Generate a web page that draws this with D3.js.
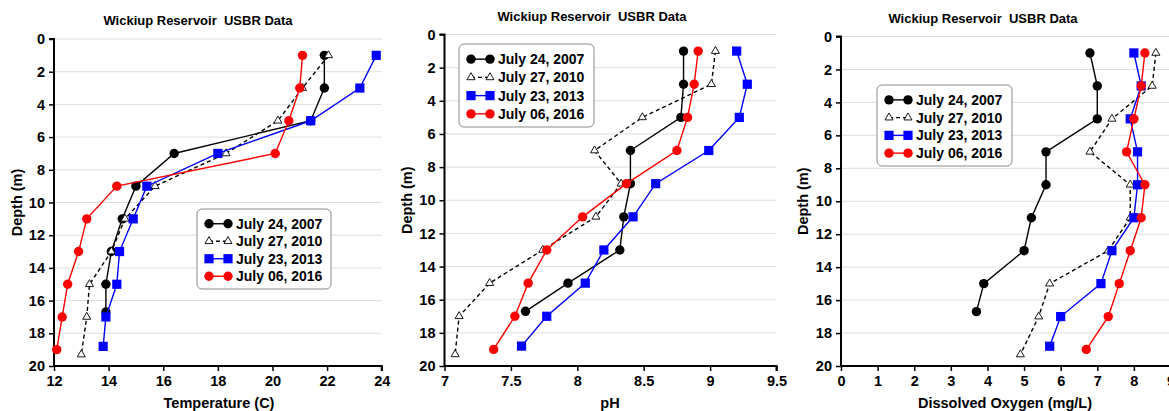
<!DOCTYPE html>
<html>
<head>
<meta charset="utf-8">
<script src="https://cdn.jsdelivr.net/npm/d3@7"></script>
<style>
  body { margin: 0; background: #fff; }
  text { font-family: "Liberation Sans", Arial, sans-serif; font-weight: bold; white-space: pre; }
</style>
</head>
<body>
<svg id="chart" width="1169" height="411"></svg>
<script>
// -- Data -- //

const seriesNames = ["July 24, 2007", "July 27, 2010", "July 23, 2013", "July 06, 2016"];

// depths (m) of each survey
const depth2007 = [1, 3, 5, 7, 9, 11, 13, 15, 16.7];
const depth2010 = [1, 3, 5, 7, 9, 11, 13, 15, 17, 19.3];
const depth2013 = [1, 3, 5, 7, 9, 11, 13, 15, 17, 18.8];
const depth2016 = [1, 3, 5, 7, 9, 11, 13, 15, 17, 19];

// temperature (C)
const temp2007 = [21.9, 21.9, 21.4, 16.4, 15.0, 14.5, 14.1, 13.9, 13.9];
const temp2010 = [22.05, 21.1, 20.2, 18.3, 15.7, 14.6, 14.1, 13.3, 13.2, 13.0];
const temp2013 = [23.8, 23.2, 21.4, 18.0, 15.4, 14.9, 14.4, 14.3, 13.9, 13.8];
const temp2016 = [21.1, 21.0, 20.6, 20.1, 14.3, 13.2, 12.9, 12.5, 12.3, 12.1];

// pH
const ph2007 = [8.80, 8.80, 8.78, 8.40, 8.40, 8.35, 8.32, 7.93, 7.61];
const ph2010 = [9.04, 9.01, 8.49, 8.13, 8.33, 8.14, 7.74, 7.34, 7.11, 7.08];
const ph2013 = [9.20, 9.28, 9.22, 8.99, 8.59, 8.42, 8.20, 8.06, 7.77, 7.58];
const ph2016 = [8.91, 8.88, 8.83, 8.75, 8.37, 8.04, 7.77, 7.63, 7.53, 7.37];

// dissolved oxygen (mg/L)
const do2007 = [6.8, 7.0, 7.0, 5.6, 5.6, 5.2, 5.0, 3.9, 3.7];
const do2010 = [8.6, 8.5, 7.4, 6.8, 7.9, 7.9, 7.3, 5.7, 5.4, 4.9];
const do2013 = [8.0, 8.2, 7.9, 8.1, 8.1, 8.0, 7.4, 7.1, 6.0, 5.7];
const do2016 = [8.3, 8.2, 8.0, 7.8, 8.3, 8.2, 7.9, 7.6, 7.3, 6.7];

const depthTicks = [0, 2, 4, 6, 8, 10, 12, 14, 16, 18, 20];
const tempTicks = [12, 14, 16, 18, 20, 22, 24];
const phTicks = [7, 7.5, 8, 8.5, 9, 9.5];
const doTicks = [0, 1, 2, 3, 4, 5, 6, 7, 8, 9];

const chartTitle = "Wickiup Reservoir  USBR Data";

// -- Panel layout -- //

const styles = [
  {colour: "#000000", shape: "circle", dash: null, fill: "#000000"},
  {colour: "#000000", shape: "triangle", dash: "4,3", fill: "#ffffff"},
  {colour: "#0000ff", shape: "square", dash: null, fill: "#0000ff"},
  {colour: "#ff0000", shape: "circle", dash: null, fill: "#ff0000"},
];
const depths = [depth2007, depth2010, depth2013, depth2016];

const panels = [
  {
    values: [temp2007, temp2010, temp2013, temp2016],
    domain: [12, 24], ticks: tempTicks,
    left: 54, right: 381.7, top: 39, bottom: 366,
    xTitle: "Temperature (C)", xTitleX: 219, titleX: 198, titleY: 25, yTitleX: 22,
    legend: {x: 197, y: 209, w: 134, h: 80},
  },
  {
    values: [ph2007, ph2010, ph2013, ph2016],
    domain: [7, 9.5], ticks: phTicks,
    left: 444.5, right: 776.5, top: 34.5, bottom: 366,
    xTitle: "pH", xTitleX: 610, titleX: 592, titleY: 21, yTitleX: 412,
    legend: {x: 459, y: 44, w: 135, h: 83},
  },
  {
    values: [do2007, do2010, do2013, do2016],
    domain: [0, 9], ticks: doTicks,
    left: 841, right: 1170.5, top: 36.5, bottom: 366,
    xTitle: "Dissolved Oxygen (mg/L)", xTitleX: 1005, titleX: 983, titleY: 23, yTitleX: 808,
    legend: {x: 877, y: 85, w: 135, h: 81},
  },
];

const svg = d3.select("#chart");

panels.forEach(drawPanel);

// -- Function definitions -- //

function drawMarker(g, shape, x, y, st) {
  if (shape === "circle") {
    g.append("circle").attr("cx", x).attr("cy", y).attr("r", 4.7)
      .attr("fill", st.fill);
  } else if (shape === "square") {
    g.append("rect").attr("x", x - 4.6).attr("y", y - 4.6)
      .attr("width", 9.2).attr("height", 9.2).attr("fill", st.fill);
  } else {
    g.append("path")
      .attr("d", d3.symbol().type(d3.symbolTriangle).size(28)())
      .attr("transform", `translate(${x},${y})`)
      .attr("fill", "#ffffff").attr("stroke", "#000").attr("stroke-width", 0.9);
  }
}

function drawPanel(p) {
  const x = d3.scaleLinear().domain(p.domain).range([p.left, p.right]);
  const y = d3.scaleLinear().domain([0, 20]).range([p.top, p.bottom]);
  const g = svg.append("g");

  // gridlines
  g.append("g").selectAll("line")
    .data(depthTicks.slice(0, -1))
    .join("line")
      .attr("x1", p.left).attr("x2", p.right)
      .attr("y1", d => y(d)).attr("y2", d => y(d))
      .attr("stroke", "#dedede").attr("stroke-width", 1);

  // axes
  const yAxis = g.append("g")
    .attr("transform", `translate(${p.left},0)`)
    .call(d3.axisLeft(y).tickValues(depthTicks).tickSize(5).tickPadding(4));
  const xAxis = g.append("g")
    .attr("transform", `translate(0,${p.bottom})`)
    .call(d3.axisBottom(x).tickValues(p.ticks).tickFormat(d => d).tickSize(5).tickPadding(5));
  [yAxis, xAxis].forEach(a => {
    a.select(".domain").attr("stroke", "#000").attr("stroke-width", 2);
    a.selectAll(".tick line").attr("stroke", "#000").attr("stroke-width", 1.5);
    a.selectAll("text").attr("fill", "#000").attr("font-size", 14.5)
      .attr("font-family", "Liberation Sans, Arial, sans-serif").attr("font-weight", "bold");
  });
  yAxis.select(".domain").attr("d", `M-5,${p.top}H0V${p.bottom}`);
  xAxis.select(".domain").attr("d", `M${p.left},0H${p.right}V5`);

  // titles
  g.append("text").attr("x", p.titleX).attr("y", p.titleY)
    .attr("text-anchor", "middle").attr("font-size", 13).text(chartTitle);
  g.append("text").attr("x", p.xTitleX)
    .attr("y", 408).attr("text-anchor", "middle").attr("font-size", 14.5)
    .text(p.xTitle);
  g.append("text")
    .attr("transform", `translate(${p.yTitleX},${(p.top + p.bottom) / 2}) rotate(-90)`)
    .attr("text-anchor", "middle").attr("font-size", 14.5).text("Depth (m)");

  // series lines then markers
  p.values.forEach((vals, i) => {
    const st = styles[i];
    const pts = vals.map((v, k) => [x(v), y(depths[i][k])]);
    g.append("path")
      .attr("d", d3.line()(pts))
      .attr("fill", "none").attr("stroke", st.colour)
      .attr("stroke-width", 1.4)
      .attr("stroke-dasharray", st.dash);
    const mg = g.append("g");
    pts.forEach(([px, py]) => drawMarker(mg, st.shape, px, py, st));
  });

  // legend
  const L = p.legend;
  const lg = g.append("g");
  lg.append("rect").attr("x", L.x).attr("y", L.y).attr("width", L.w).attr("height", L.h)
    .attr("rx", 5).attr("fill", "#fff").attr("stroke", "#8a8a8a").attr("stroke-width", 1);
  const rowH = (L.h - 10) / 4;
  seriesNames.forEach((name, i) => {
    const st = styles[i];
    const cy = L.y + 6 + rowH * (i + 0.5);
    const x0 = L.x + 12, x1 = L.x + 31;
    lg.append("line").attr("x1", x0).attr("x2", x1).attr("y1", cy).attr("y2", cy)
      .attr("stroke", st.colour).attr("stroke-width", 1.4)
      .attr("stroke-dasharray", st.dash);
    drawMarker(lg, st.shape, x0, cy, st);
    drawMarker(lg, st.shape, x1, cy, st);
    lg.append("text").attr("x", L.x + 39).attr("y", cy + 5)
      .attr("font-size", 14).text(name);
  });
}
</script>
</body>
</html>
